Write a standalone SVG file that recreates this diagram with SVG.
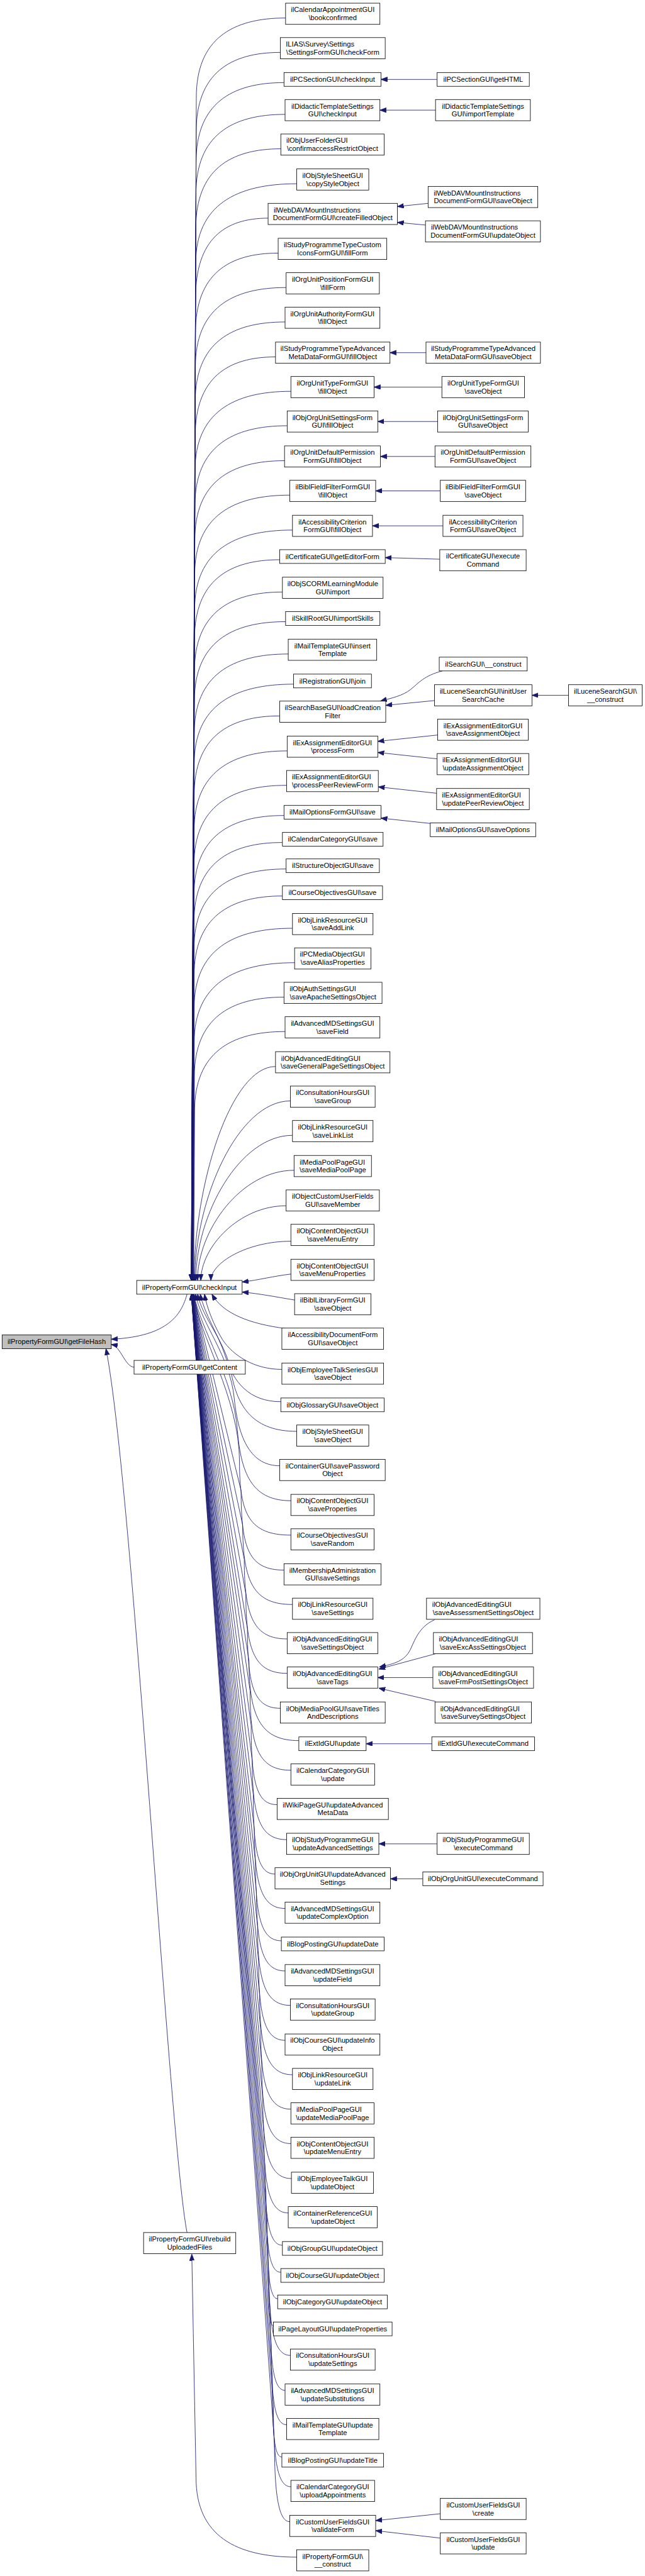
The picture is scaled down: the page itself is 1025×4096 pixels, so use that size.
<svg xmlns="http://www.w3.org/2000/svg" width="1025" height="4096" viewBox="0 0 1025 4096">
<defs>
<style>
.nd rect{fill:#fff;stroke:#000;stroke-width:1}
.root rect{fill:#bfbfbf}
text{font-family:"Liberation Sans",Arial,Helvetica,sans-serif;font-size:13.3px;fill:#000}
.c{text-anchor:middle}
.l{text-anchor:start}
#edges path{fill:none;stroke:#191970;stroke-width:1;marker-end:url(#ah)}
</style>
<marker id="ah" markerUnits="userSpaceOnUse" markerWidth="13" markerHeight="10" refX="12" refY="4.5" orient="auto"><path d="M0,0 L12,4.5 L0,9 Z" fill="#191970" stroke="#191970" stroke-width="1"/></marker>
</defs>
<rect width="1025" height="4096" fill="#fff"/>
<g transform="scale(0.842)">
<g id="edges">
<path d="M539,34 C438,34 370.5,74 370.5,184 L361,2418"/>
<path d="M529,99 C434,99 370.3,139 370.3,249 L361,2418"/>
<path d="M536,156 C436.5,156 370.1,196 370.1,306 L361.1,2418"/>
<path d="M538,216 C437,216 369.9,256 369.9,366 L361.1,2418"/>
<path d="M530,281 C434,281 369.6,321 369.6,431 L361.1,2418"/>
<path d="M560,347 C446,347 369.5,387 369.5,497 L361.2,2418"/>
<path d="M506,412 C424,412 369.2,452 369.2,562 L361.2,2418"/>
<path d="M525,478 C431,478 369,518 369,628 L361.2,2418"/>
<path d="M540,543 C437,543 368.8,583 368.8,693 L361.3,2418"/>
<path d="M538,608 C436,608 368.5,648 368.5,758 L361.3,2418"/>
<path d="M520,674 C429,674 368.4,714 368.4,824 L361.4,2418"/>
<path d="M549,739 C440.5,739 368.1,779 368.1,889 L361.4,2418"/>
<path d="M542,804 C437.6,804 368,844 368,954 L361.5,2418"/>
<path d="M537,870 C435.4,870 367.7,910 367.7,1020 L361.5,2418"/>
<path d="M547,935 C439.3,935 367.5,975 367.5,1085 L361.6,2418"/>
<path d="M552,1001 C441.2,1001 367.4,1041 367.4,1151 L361.7,2418"/>
<path d="M528,1057 C431.5,1057 367.1,1097 367.1,1207 L361.7,2418"/>
<path d="M533,1118 C433.4,1118 367,1158 367,1268 L361.8,2418"/>
<path d="M539,1174 C435.7,1174 366.9,1214 366.9,1324 L361.9,2418"/>
<path d="M544,1235 C437.6,1235 366.7,1275 366.7,1385 L362,2418"/>
<path d="M554,1292 C441.6,1292 366.6,1332 366.6,1442 L362.1,2418"/>
<path d="M528,1352 C431.1,1352 366.5,1392 366.5,1502 L362.2,2418"/>
<path d="M542,1418 C436.6,1418 366.4,1458 366.4,1568 L362.4,2418"/>
<path d="M541,1483 C436.1,1483 366.2,1523 366.2,1633 L362.5,2418"/>
<path d="M536,1540 C434.1,1540 366.2,1580 366.2,1690 L362.7,2418"/>
<path d="M533,1591 C432.9,1591 366.2,1631 366.2,1741 L362.9,2418"/>
<path d="M540,1641 C435.8,1641 366.3,1681 366.3,1791 L363.2,2418"/>
<path d="M533,1692 C433,1692 366.4,1732 366.4,1842 L363.5,2418"/>
<path d="M552,1753 C440.7,1753 366.5,1793 366.5,1903 L363.8,2418"/>
<path d="M556,1818 C442.4,1818 366.6,1858 366.6,1968 L364.2,2418"/>
<path d="M536,1883 C434.5,1883 366.9,1923 366.9,2033 L364.8,2418"/>
<path d="M538,1948 C435.6,1948 367.3,1988 367.3,2098 L365.4,2418"/>
<path d="M520,2014 C435.5,2014 366.3,2236 366.3,2418"/>
<path d="M548,2079 C448.8,2079 367.6,2265 367.6,2418"/>
<path d="M552,2144 C451.6,2144 369.5,2295 369.5,2418"/>
<path d="M555,2210 C454.7,2210 372.7,2324 372.7,2418"/>
<path d="M540,2277 C451.5,2277 379,2355 379,2418"/>
<path d="M549,2344 C466,2344 398,2385 398,2418"/>
<path d="M549,2406 C515,2410 490,2417 457,2421"/>
<path d="M556,2455 C520,2449 490,2443 457,2440"/>
<path d="M540,2509 C470,2500 420,2480 400,2444"/>
<path d="M532,2586 C480,2586 440,2560 420,2530 C405,2505 390,2470 386,2444"/>
<path d="M530,2647 C470,2647 440,2610 425,2560 C412,2520 385,2480 378,2444"/>
<path d="M560,2703 C480,2703 448,2660 436,2590 C424,2530 382,2490 373,2444"/>
<path d="M528,2768 C475,2768 450,2720 442,2640 C434,2560 380,2500 369,2444"/>
<path d="M549,2834 C480,2834 455,2790 448,2700 C440,2600 378,2510 366,2444"/>
<path d="M549,2899 C470,2899 452,2859 452,2760 C452,2640 375,2520 365,2444"/>
<path d="M536,2965 C470,2965 455,2925 455,2815 L364.8,2444"/>
<path d="M552,3030 C480,3030 458,2990 458,2880 L364.2,2444"/>
<path d="M542,3095 C480,3095 461,3055 461,2945 L363.8,2444"/>
<path d="M542,3160 C482,3160 464,3120 464,3010 L363.5,2444"/>
<path d="M529,3226 C480,3226 467,3186 467,3076 L363.2,2444"/>
<path d="M564,3287 C495,3287 470,3247 470,3137 L362.9,2444"/>
<path d="M549,3343 C490,3343 472,3303 472,3193 L362.7,2444"/>
<path d="M523,3408 C485,3408 474,3368 474,3258 L362.5,2444"/>
<path d="M541,3474 C492,3474 476,3434 476,3324 L362.4,2444"/>
<path d="M519,3539 C488,3539 478,3499 478,3389 L362.2,2444"/>
<path d="M538,3604 C496,3604 480,3564 480,3454 L362.1,2444"/>
<path d="M531,3665 C495,3665 482,3625 482,3515 L362,2444"/>
<path d="M538,3722 C498,3722 484,3682 484,3572 L361.9,2444"/>
<path d="M548,3787 C503,3787 486,3747 486,3637 L361.8,2444"/>
<path d="M538,3853 C502,3853 488,3813 488,3703 L361.7,2444"/>
<path d="M552,3918 C508,3918 490,3878 490,3768 L361.7,2444"/>
<path d="M549,3983 C508,3983 492,3943 492,3833 L361.6,2444"/>
<path d="M549,4048 C510,4048 494,4008 494,3898 L361.5,2444"/>
<path d="M550,4114 C512,4114 496,4074 496,3964 L361.5,2444"/>
<path d="M544,4179 C512,4179 498,4139 498,4029 L361.4,2444"/>
<path d="M533,4240 C510,4240 500,4200 500,4090 L361.4,2444"/>
<path d="M530,4291 C510,4291 502,4251 502,4141 L361.3,2444"/>
<path d="M524,4341 C510,4341 504,4301 504,4191 L361.3,2444"/>
<path d="M516,4392 C508,4392 506,4352 506,4242 L361.2,2444"/>
<path d="M548,4448 C520,4448 508,4408 508,4298 L361.2,2444"/>
<path d="M538,4514 C518,4514 510,4474 510,4364 L361.2,2444"/>
<path d="M541,4579 C520,4579 512,4539 512,4429 L361.1,2444"/>
<path d="M532,4640 C518,4640 514,4600 514,4490 L361.1,2444"/>
<path d="M549,4696 C526,4696 516,4656 516,4546 L361.1,2444"/>
<path d="M547,4762 C528,4762 518,4722 518,4612 L361,2444"/>
<path d="M560,4829 C446,4829 370,4789 370,4679 L362,4257"/>
<path d="M825,150 L719,150"/>
<path d="M822,208 L717,208"/>
<path d="M808,384 L750,390"/>
<path d="M803,425 L750,420"/>
<path d="M804,666 L736,666"/>
<path d="M834,731 L706,731"/>
<path d="M826,796 L713,796"/>
<path d="M821,862 L718,862"/>
<path d="M831,927 L709,927"/>
<path d="M836,993 L703,993"/>
<path d="M830,1056 L727,1053"/>
<path d="M835,1267 C800,1276 790,1290 775,1302 C760,1314 740,1318 718,1324"/>
<path d="M820,1323 L728,1332"/>
<path d="M1073,1313 L1004,1313"/>
<path d="M826,1388 L713,1400"/>
<path d="M825,1433 L713,1421"/>
<path d="M824,1498 L714,1486"/>
<path d="M812,1555 L719,1545"/>
<path d="M820,3059 C790,3072 782,3100 774,3116 C764,3136 745,3142 716,3148"/>
<path d="M822,3123 L715,3152"/>
<path d="M817,3168 L713,3168"/>
<path d="M822,3213 L715,3188"/>
<path d="M815,3293 L691,3293"/>
<path d="M825,3482 L715,3482"/>
<path d="M798,3548 L737,3548"/>
<path d="M831,4747 L709,4760"/>
<path d="M831,4793 L709,4779"/>
<path d="M353,2444 C343,2480 320,2524 210,2529"/>
<path d="M253,2582 C235,2580 228,2542 210,2539"/>
<path d="M353,4216 C320,4050 250,2800 200,2547"/>
</g>
<g id="nodes">
<g id="getFileHash" class="nd root"><rect x="4" y="2521" width="206" height="26"/><text class="c" x="107" y="2538.5">ilPropertyFormGUI\getFileHash</text></g>
<g id="checkInput" class="nd"><rect x="258" y="2418" width="199" height="26"/><text class="c" x="357.5" y="2435.5">ilPropertyFormGUI\checkInput</text></g>
<g id="getContent" class="nd"><rect x="253" y="2569" width="210" height="26"/><text class="c" x="358" y="2586.5">ilPropertyFormGUI\getContent</text></g>
<g id="rebuildUploadedFiles" class="nd"><rect x="271" y="4216" width="174" height="40"/><text class="c" x="358" y="4233">ilPropertyFormGUI\rebuild</text><text class="c" x="358" y="4248">UploadedFiles</text></g>
<g id="n1" class="nd"><rect x="539" y="6" width="178" height="40"/><text class="c" x="628" y="23">ilCalendarAppointmentGUI</text><text class="c" x="628" y="38">\bookconfirmed</text></g>
<g id="n2" class="nd"><rect x="529" y="71" width="198" height="40"/><text class="l" x="539.5" y="88">ILIAS\Survey\Settings</text><text class="c" x="628" y="103">\SettingsFormGUI\checkForm</text></g>
<g id="n3" class="nd"><rect x="536" y="137" width="183" height="26"/><text class="c" x="627.5" y="154.5">ilPCSectionGUI\checkInput</text></g>
<g id="n4" class="nd"><rect x="538" y="188" width="179" height="40"/><text class="c" x="627.5" y="205">ilDidacticTemplateSettings</text><text class="c" x="627.5" y="220">GUI\checkInput</text></g>
<g id="n5" class="nd"><rect x="530" y="253" width="195" height="40"/><text class="l" x="540.5" y="270">ilObjUserFolderGUI</text><text class="c" x="627.5" y="285">\confirmaccessRestrictObject</text></g>
<g id="n6" class="nd"><rect x="560" y="319" width="136" height="40"/><text class="c" x="628" y="336">ilObjStyleSheetGUI</text><text class="c" x="628" y="351">\copyStyleObject</text></g>
<g id="n7" class="nd"><rect x="506" y="384" width="244" height="40"/><text class="l" x="516.5" y="401">ilWebDAVMountInstructions</text><text class="c" x="628" y="416">DocumentFormGUI\createFilledObject</text></g>
<g id="n8" class="nd"><rect x="525" y="450" width="205" height="40"/><text class="c" x="627.5" y="467">ilStudyProgrammeTypeCustom</text><text class="c" x="627.5" y="482">IconsFormGUI\fillForm</text></g>
<g id="n9" class="nd"><rect x="540" y="515" width="176" height="40"/><text class="c" x="628" y="532">ilOrgUnitPositionFormGUI</text><text class="c" x="628" y="547">\fillForm</text></g>
<g id="n10" class="nd"><rect x="538" y="580" width="179" height="40"/><text class="c" x="627.5" y="597">ilOrgUnitAuthorityFormGUI</text><text class="c" x="627.5" y="612">\fillObject</text></g>
<g id="n11" class="nd"><rect x="520" y="646" width="216" height="40"/><text class="c" x="628" y="663">ilStudyProgrammeTypeAdvanced</text><text class="c" x="628" y="678">MetaDataFormGUI\fillObject</text></g>
<g id="n12" class="nd"><rect x="549" y="711" width="157" height="40"/><text class="c" x="627.5" y="728">ilOrgUnitTypeFormGUI</text><text class="c" x="627.5" y="743">\fillObject</text></g>
<g id="n13" class="nd"><rect x="542" y="776" width="171" height="40"/><text class="c" x="627.5" y="793">ilObjOrgUnitSettingsForm</text><text class="c" x="627.5" y="808">GUI\fillObject</text></g>
<g id="n14" class="nd"><rect x="537" y="842" width="181" height="40"/><text class="c" x="627.5" y="859">ilOrgUnitDefaultPermission</text><text class="c" x="627.5" y="874">FormGUI\fillObject</text></g>
<g id="n15" class="nd"><rect x="547" y="907" width="162" height="40"/><text class="c" x="628" y="924">ilBiblFieldFilterFormGUI</text><text class="c" x="628" y="939">\fillObject</text></g>
<g id="n16" class="nd"><rect x="552" y="973" width="151" height="40"/><text class="c" x="627.5" y="990">ilAccessibilityCriterion</text><text class="c" x="627.5" y="1005">FormGUI\fillObject</text></g>
<g id="n17" class="nd"><rect x="528" y="1038" width="199" height="26"/><text class="c" x="627.5" y="1055.5">ilCertificateGUI\getEditorForm</text></g>
<g id="n18" class="nd"><rect x="533" y="1090" width="190" height="40"/><text class="c" x="628" y="1107">ilObjSCORMLearningModule</text><text class="c" x="628" y="1122">GUI\import</text></g>
<g id="n19" class="nd"><rect x="539" y="1155" width="178" height="26"/><text class="c" x="628" y="1172.5">ilSkillRootGUI\importSkills</text></g>
<g id="n20" class="nd"><rect x="544" y="1207" width="167" height="40"/><text class="c" x="627.5" y="1224">ilMailTemplateGUI\insert</text><text class="c" x="627.5" y="1239">Template</text></g>
<g id="n21" class="nd"><rect x="554" y="1273" width="147" height="26"/><text class="c" x="627.5" y="1290.5">ilRegistrationGUI\join</text></g>
<g id="n22" class="nd"><rect x="528" y="1324" width="200" height="40"/><text class="c" x="628" y="1341">ilSearchBaseGUI\loadCreation</text><text class="c" x="628" y="1356">Filter</text></g>
<g id="n23" class="nd"><rect x="542" y="1390" width="171" height="40"/><text class="c" x="627.5" y="1407">ilExAssignmentEditorGUI</text><text class="c" x="627.5" y="1422">\processForm</text></g>
<g id="n24" class="nd"><rect x="541" y="1455" width="173" height="40"/><text class="l" x="551" y="1472">ilExAssignmentEditorGUI</text><text class="c" x="627.5" y="1487">\processPeerReviewForm</text></g>
<g id="n25" class="nd"><rect x="536" y="1521" width="183" height="26"/><text class="c" x="627.5" y="1538.5">ilMailOptionsFormGUI\save</text></g>
<g id="n26" class="nd"><rect x="533" y="1572" width="190" height="26"/><text class="c" x="628" y="1589.5">ilCalendarCategoryGUI\save</text></g>
<g id="n27" class="nd"><rect x="540" y="1622" width="176" height="26"/><text class="c" x="628" y="1639.5">ilStructureObjectGUI\save</text></g>
<g id="n28" class="nd"><rect x="533" y="1673" width="189" height="26"/><text class="c" x="627.5" y="1690.5">ilCourseObjectivesGUI\save</text></g>
<g id="n29" class="nd"><rect x="552" y="1725" width="152" height="40"/><text class="c" x="628" y="1742">ilObjLinkResourceGUI</text><text class="c" x="628" y="1757">\saveAddLink</text></g>
<g id="n30" class="nd"><rect x="556" y="1790" width="144" height="40"/><text class="l" x="566" y="1807">ilPCMediaObjectGUI</text><text class="c" x="628" y="1822">\saveAliasProperties</text></g>
<g id="n31" class="nd"><rect x="536" y="1855" width="185" height="40"/><text class="l" x="546.5" y="1872">ilObjAuthSettingsGUI</text><text class="c" x="628.5" y="1887">\saveApacheSettingsObject</text></g>
<g id="n32" class="nd"><rect x="538" y="1920" width="179" height="40"/><text class="c" x="627.5" y="1937">ilAdvancedMDSettingsGUI</text><text class="c" x="627.5" y="1952">\saveField</text></g>
<g id="n33" class="nd"><rect x="520" y="1986" width="216" height="40"/><text class="l" x="530.5" y="2003">ilObjAdvancedEditingGUI</text><text class="c" x="628" y="2018">\saveGeneralPageSettingsObject</text></g>
<g id="n34" class="nd"><rect x="548" y="2051" width="160" height="40"/><text class="c" x="628" y="2068">ilConsultationHoursGUI</text><text class="c" x="628" y="2083">\saveGroup</text></g>
<g id="n35" class="nd"><rect x="552" y="2116" width="152" height="40"/><text class="c" x="628" y="2133">ilObjLinkResourceGUI</text><text class="c" x="628" y="2148">\saveLinkList</text></g>
<g id="n36" class="nd"><rect x="555" y="2182" width="146" height="40"/><text class="l" x="565.5" y="2199">ilMediaPoolPageGUI</text><text class="c" x="628" y="2214">\saveMediaPoolPage</text></g>
<g id="n37" class="nd"><rect x="540" y="2247" width="176" height="40"/><text class="c" x="628" y="2264">ilObjectCustomUserFields</text><text class="c" x="628" y="2279">GUI\saveMember</text></g>
<g id="n38" class="nd"><rect x="549" y="2312" width="157" height="40"/><text class="c" x="627.5" y="2329">ilObjContentObjectGUI</text><text class="c" x="627.5" y="2344">\saveMenuEntry</text></g>
<g id="n39" class="nd"><rect x="549" y="2378" width="157" height="40"/><text class="c" x="627.5" y="2395">ilObjContentObjectGUI</text><text class="c" x="627.5" y="2410">\saveMenuProperties</text></g>
<g id="n40" class="nd"><rect x="556" y="2443" width="144" height="40"/><text class="c" x="628" y="2460">ilBiblLibraryFormGUI</text><text class="c" x="628" y="2475">\saveObject</text></g>
<g id="n41" class="nd"><rect x="532" y="2508" width="192" height="40"/><text class="c" x="628" y="2525">ilAccessibilityDocumentForm</text><text class="c" x="628" y="2540">GUI\saveObject</text></g>
<g id="n42" class="nd"><rect x="532" y="2574" width="192" height="40"/><text class="c" x="628" y="2591">ilObjEmployeeTalkSeriesGUI</text><text class="c" x="628" y="2606">\saveObject</text></g>
<g id="n43" class="nd"><rect x="530" y="2640" width="195" height="26"/><text class="c" x="627.5" y="2657.5">ilObjGlossaryGUI\saveObject</text></g>
<g id="n44" class="nd"><rect x="560" y="2691" width="136" height="40"/><text class="c" x="628" y="2708">ilObjStyleSheetGUI</text><text class="c" x="628" y="2723">\saveObject</text></g>
<g id="n45" class="nd"><rect x="528" y="2756" width="199" height="40"/><text class="c" x="627.5" y="2773">ilContainerGUI\savePassword</text><text class="c" x="627.5" y="2788">Object</text></g>
<g id="n46" class="nd"><rect x="549" y="2822" width="157" height="40"/><text class="c" x="627.5" y="2839">ilObjContentObjectGUI</text><text class="c" x="627.5" y="2854">\saveProperties</text></g>
<g id="n47" class="nd"><rect x="549" y="2887" width="157" height="40"/><text class="c" x="627.5" y="2904">ilCourseObjectivesGUI</text><text class="c" x="627.5" y="2919">\saveRandom</text></g>
<g id="n48" class="nd"><rect x="536" y="2953" width="183" height="40"/><text class="c" x="627.5" y="2970">ilMembershipAdministration</text><text class="c" x="627.5" y="2985">GUI\saveSettings</text></g>
<g id="n49" class="nd"><rect x="552" y="3018" width="152" height="40"/><text class="c" x="628" y="3035">ilObjLinkResourceGUI</text><text class="c" x="628" y="3050">\saveSettings</text></g>
<g id="n50" class="nd"><rect x="542" y="3083" width="171" height="40"/><text class="c" x="627.5" y="3100">ilObjAdvancedEditingGUI</text><text class="c" x="627.5" y="3115">\saveSettingsObject</text></g>
<g id="n51" class="nd"><rect x="542" y="3148" width="171" height="40"/><text class="c" x="627.5" y="3165">ilObjAdvancedEditingGUI</text><text class="c" x="627.5" y="3180">\saveTags</text></g>
<g id="n52" class="nd"><rect x="529" y="3214" width="198" height="40"/><text class="c" x="628" y="3231">ilObjMediaPoolGUI\saveTitles</text><text class="c" x="628" y="3246">AndDescriptions</text></g>
<g id="n53" class="nd"><rect x="564" y="3280" width="127" height="26"/><text class="c" x="627.5" y="3297.5">ilExtIdGUI\update</text></g>
<g id="n54" class="nd"><rect x="549" y="3331" width="158" height="40"/><text class="c" x="628" y="3348">ilCalendarCategoryGUI</text><text class="c" x="628" y="3363">\update</text></g>
<g id="n55" class="nd"><rect x="523" y="3396" width="210" height="40"/><text class="c" x="628" y="3413">ilWikiPageGUI\updateAdvanced</text><text class="c" x="628" y="3428">MetaData</text></g>
<g id="n56" class="nd"><rect x="541" y="3462" width="174" height="40"/><text class="c" x="628" y="3479">ilObjStudyProgrammeGUI</text><text class="c" x="628" y="3494">\updateAdvancedSettings</text></g>
<g id="n57" class="nd"><rect x="519" y="3527" width="218" height="40"/><text class="c" x="628" y="3544">ilObjOrgUnitGUI\updateAdvanced</text><text class="c" x="628" y="3559">Settings</text></g>
<g id="n58" class="nd"><rect x="538" y="3592" width="179" height="40"/><text class="c" x="627.5" y="3609">ilAdvancedMDSettingsGUI</text><text class="c" x="627.5" y="3624">\updateComplexOption</text></g>
<g id="n59" class="nd"><rect x="531" y="3658" width="194" height="26"/><text class="c" x="628" y="3675.5">ilBlogPostingGUI\updateDate</text></g>
<g id="n60" class="nd"><rect x="538" y="3710" width="179" height="40"/><text class="c" x="627.5" y="3727">ilAdvancedMDSettingsGUI</text><text class="c" x="627.5" y="3742">\updateField</text></g>
<g id="n61" class="nd"><rect x="548" y="3775" width="160" height="40"/><text class="c" x="628" y="3792">ilConsultationHoursGUI</text><text class="c" x="628" y="3807">\updateGroup</text></g>
<g id="n62" class="nd"><rect x="538" y="3841" width="179" height="40"/><text class="c" x="627.5" y="3858">ilObjCourseGUI\updateInfo</text><text class="c" x="627.5" y="3873">Object</text></g>
<g id="n63" class="nd"><rect x="552" y="3906" width="152" height="40"/><text class="c" x="628" y="3923">ilObjLinkResourceGUI</text><text class="c" x="628" y="3938">\updateLink</text></g>
<g id="n64" class="nd"><rect x="549" y="3971" width="157" height="40"/><text class="l" x="559.5" y="3988">ilMediaPoolPageGUI</text><text class="c" x="627.5" y="4003">\updateMediaPoolPage</text></g>
<g id="n65" class="nd"><rect x="549" y="4036" width="157" height="40"/><text class="c" x="627.5" y="4053">ilObjContentObjectGUI</text><text class="c" x="627.5" y="4068">\updateMenuEntry</text></g>
<g id="n66" class="nd"><rect x="550" y="4102" width="155" height="40"/><text class="c" x="627.5" y="4119">ilObjEmployeeTalkGUI</text><text class="c" x="627.5" y="4134">\updateObject</text></g>
<g id="n67" class="nd"><rect x="544" y="4167" width="168" height="40"/><text class="c" x="628" y="4184">ilContainerReferenceGUI</text><text class="c" x="628" y="4199">\updateObject</text></g>
<g id="n68" class="nd"><rect x="533" y="4233" width="189" height="26"/><text class="c" x="627.5" y="4250.5">ilObjGroupGUI\updateObject</text></g>
<g id="n69" class="nd"><rect x="530" y="4284" width="195" height="26"/><text class="c" x="627.5" y="4301.5">ilObjCourseGUI\updateObject</text></g>
<g id="n70" class="nd"><rect x="524" y="4334" width="207" height="26"/><text class="c" x="627.5" y="4351.5">ilObjCategoryGUI\updateObject</text></g>
<g id="n71" class="nd"><rect x="516" y="4385" width="224" height="26"/><text class="c" x="628" y="4402.5">ilPageLayoutGUI\updateProperties</text></g>
<g id="n72" class="nd"><rect x="548" y="4436" width="160" height="40"/><text class="c" x="628" y="4453">ilConsultationHoursGUI</text><text class="c" x="628" y="4468">\updateSettings</text></g>
<g id="n73" class="nd"><rect x="538" y="4502" width="179" height="40"/><text class="c" x="627.5" y="4519">ilAdvancedMDSettingsGUI</text><text class="c" x="627.5" y="4534">\updateSubstitutions</text></g>
<g id="n74" class="nd"><rect x="541" y="4567" width="174" height="40"/><text class="c" x="628" y="4584">ilMailTemplateGUI\update</text><text class="c" x="628" y="4599">Template</text></g>
<g id="n75" class="nd"><rect x="532" y="4633" width="192" height="26"/><text class="c" x="628" y="4650.5">ilBlogPostingGUI\updateTitle</text></g>
<g id="n76" class="nd"><rect x="549" y="4684" width="158" height="40"/><text class="c" x="628" y="4701">ilCalendarCategoryGUI</text><text class="c" x="628" y="4716">\uploadAppointments</text></g>
<g id="n77" class="nd"><rect x="547" y="4750" width="162" height="40"/><text class="c" x="628" y="4767">ilCustomUserFieldsGUI</text><text class="c" x="628" y="4782">\validateForm</text></g>
<g id="n78" class="nd"><rect x="560" y="4815" width="136" height="40"/><text class="c" x="628" y="4832">ilPropertyFormGUI\</text><text class="c" x="628" y="4847">__construct</text></g>
<g id="c4a" class="nd"><rect x="825" y="137" width="174" height="26"/><text class="c" x="912" y="154.5">ilPCSectionGUI\getHTML</text></g>
<g id="c4b" class="nd"><rect x="822" y="188" width="179" height="40"/><text class="c" x="911.5" y="205">ilDidacticTemplateSettings</text><text class="c" x="911.5" y="220">GUI\importTemplate</text></g>
<g id="c4c" class="nd"><rect x="808" y="352" width="207" height="40"/><text class="l" x="818.5" y="369">ilWebDAVMountInstructions</text><text class="c" x="911.5" y="384">DocumentFormGUI\saveObject</text></g>
<g id="c4d" class="nd"><rect x="803" y="417" width="217" height="40"/><text class="l" x="813.5" y="434">ilWebDAVMountInstructions</text><text class="c" x="911.5" y="449">DocumentFormGUI\updateObject</text></g>
<g id="c4e" class="nd"><rect x="804" y="646" width="216" height="40"/><text class="c" x="912" y="663">ilStudyProgrammeTypeAdvanced</text><text class="c" x="912" y="678">MetaDataFormGUI\saveObject</text></g>
<g id="c4f" class="nd"><rect x="834" y="711" width="156" height="40"/><text class="c" x="912" y="728">ilOrgUnitTypeFormGUI</text><text class="c" x="912" y="743">\saveObject</text></g>
<g id="c4g" class="nd"><rect x="826" y="776" width="171" height="40"/><text class="c" x="911.5" y="793">ilObjOrgUnitSettingsForm</text><text class="c" x="911.5" y="808">GUI\saveObject</text></g>
<g id="c4h" class="nd"><rect x="821" y="842" width="181" height="40"/><text class="c" x="911.5" y="859">ilOrgUnitDefaultPermission</text><text class="c" x="911.5" y="874">FormGUI\saveObject</text></g>
<g id="c4i" class="nd"><rect x="831" y="907" width="161" height="40"/><text class="c" x="911.5" y="924">ilBiblFieldFilterFormGUI</text><text class="c" x="911.5" y="939">\saveObject</text></g>
<g id="c4j" class="nd"><rect x="836" y="973" width="151" height="40"/><text class="c" x="911.5" y="990">ilAccessibilityCriterion</text><text class="c" x="911.5" y="1005">FormGUI\saveObject</text></g>
<g id="c4k" class="nd"><rect x="830" y="1038" width="163" height="40"/><text class="c" x="911.5" y="1055">ilCertificateGUI\execute</text><text class="c" x="911.5" y="1070">Command</text></g>
<g id="c4l" class="nd"><rect x="829" y="1241" width="166" height="26"/><text class="c" x="912" y="1258.5">ilSearchGUI\__construct</text></g>
<g id="c4m" class="nd"><rect x="820" y="1293" width="184" height="40"/><text class="c" x="912" y="1310">ilLuceneSearchGUI\initUser</text><text class="c" x="912" y="1325">SearchCache</text></g>
<g id="c5a" class="nd"><rect x="1073" y="1293" width="139" height="40"/><text class="c" x="1142.5" y="1310">ilLuceneSearchGUI\</text><text class="c" x="1142.5" y="1325">__construct</text></g>
<g id="c4n" class="nd"><rect x="826" y="1358" width="171" height="40"/><text class="c" x="911.5" y="1375">ilExAssignmentEditorGUI</text><text class="c" x="911.5" y="1390">\saveAssignmentObject</text></g>
<g id="c4o" class="nd"><rect x="825" y="1423" width="173" height="40"/><text class="l" x="835" y="1440">ilExAssignmentEditorGUI</text><text class="c" x="911.5" y="1455">\updateAssignmentObject</text></g>
<g id="c4p" class="nd"><rect x="824" y="1489" width="175" height="40"/><text class="l" x="834" y="1506">ilExAssignmentEditorGUI</text><text class="c" x="911.5" y="1521">\updatePeerReviewObject</text></g>
<g id="c4q" class="nd"><rect x="812" y="1554" width="199" height="26"/><text class="c" x="911.5" y="1571.5">ilMailOptionsGUI\saveOptions</text></g>
<g id="c4r" class="nd"><rect x="805" y="3018" width="214" height="40"/><text class="l" x="815.5" y="3035">ilObjAdvancedEditingGUI</text><text class="c" x="912" y="3050">\saveAssessmentSettingsObject</text></g>
<g id="c4s" class="nd"><rect x="818" y="3083" width="187" height="40"/><text class="l" x="828" y="3100">ilObjAdvancedEditingGUI</text><text class="c" x="911.5" y="3115">\saveExcAssSettingsObject</text></g>
<g id="c4t" class="nd"><rect x="817" y="3148" width="190" height="40"/><text class="l" x="827" y="3165">ilObjAdvancedEditingGUI</text><text class="c" x="912" y="3180">\saveFrmPostSettingsObject</text></g>
<g id="c4u" class="nd"><rect x="821" y="3214" width="182" height="40"/><text class="l" x="831" y="3231">ilObjAdvancedEditingGUI</text><text class="c" x="912" y="3246">\saveSurveySettingsObject</text></g>
<g id="c4v" class="nd"><rect x="815" y="3280" width="194" height="26"/><text class="c" x="912" y="3297.5">ilExtIdGUI\executeCommand</text></g>
<g id="c4w" class="nd"><rect x="825" y="3462" width="174" height="40"/><text class="c" x="912" y="3479">ilObjStudyProgrammeGUI</text><text class="c" x="912" y="3494">\executeCommand</text></g>
<g id="c4x" class="nd"><rect x="798" y="3535" width="227" height="26"/><text class="c" x="911.5" y="3552.5">ilObjOrgUnitGUI\executeCommand</text></g>
<g id="c4y" class="nd"><rect x="831" y="4718" width="162" height="40"/><text class="c" x="912" y="4735">ilCustomUserFieldsGUI</text><text class="c" x="912" y="4750">\create</text></g>
<g id="c4z" class="nd"><rect x="831" y="4783" width="162" height="40"/><text class="c" x="912" y="4800">ilCustomUserFieldsGUI</text><text class="c" x="912" y="4815">\update</text></g>
</g>
</g>
</svg>
